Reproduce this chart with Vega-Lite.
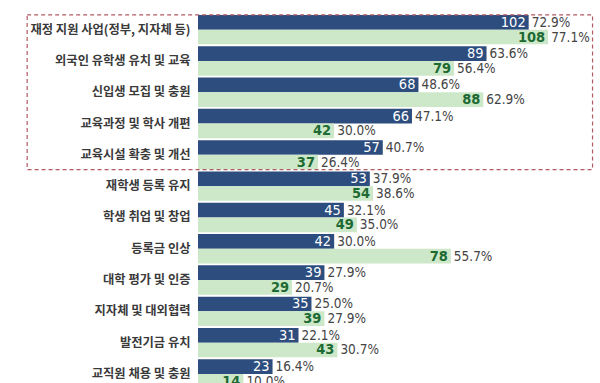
{
  "$schema": "https://vega.github.io/schema/vega-lite/v6.json",
  "autosize": "none",
  "width": 402,
  "height": 375.6,
  "padding": {"left": 198, "top": 14, "right": 0, "bottom": 0},
  "background": "white",
  "config": {"view": {"stroke": null}},
  "datasets": {
    "bars": [
      {"category": "재정 지원 사업(정부, 지자체 등)", "series": "A", "value": 102, "pct": "72.9%"},
      {"category": "재정 지원 사업(정부, 지자체 등)", "series": "B", "value": 108, "pct": "77.1%"},
      {"category": "외국인 유학생 유치 및 교육", "series": "A", "value": 89, "pct": "63.6%"},
      {"category": "외국인 유학생 유치 및 교육", "series": "B", "value": 79, "pct": "56.4%"},
      {"category": "신입생 모집 및 충원", "series": "A", "value": 68, "pct": "48.6%"},
      {"category": "신입생 모집 및 충원", "series": "B", "value": 88, "pct": "62.9%"},
      {"category": "교육과정 및 학사 개편", "series": "A", "value": 66, "pct": "47.1%"},
      {"category": "교육과정 및 학사 개편", "series": "B", "value": 42, "pct": "30.0%"},
      {"category": "교육시설 확충 및 개선", "series": "A", "value": 57, "pct": "40.7%"},
      {"category": "교육시설 확충 및 개선", "series": "B", "value": 37, "pct": "26.4%"},
      {"category": "재학생 등록 유지", "series": "A", "value": 53, "pct": "37.9%"},
      {"category": "재학생 등록 유지", "series": "B", "value": 54, "pct": "38.6%"},
      {"category": "학생 취업 및 창업", "series": "A", "value": 45, "pct": "32.1%"},
      {"category": "학생 취업 및 창업", "series": "B", "value": 49, "pct": "35.0%"},
      {"category": "등록금 인상", "series": "A", "value": 42, "pct": "30.0%"},
      {"category": "등록금 인상", "series": "B", "value": 78, "pct": "55.7%"},
      {"category": "대학 평가 및 인증", "series": "A", "value": 39, "pct": "27.9%"},
      {"category": "대학 평가 및 인증", "series": "B", "value": 29, "pct": "20.7%"},
      {"category": "지자체 및 대외협력", "series": "A", "value": 35, "pct": "25.0%"},
      {"category": "지자체 및 대외협력", "series": "B", "value": 39, "pct": "27.9%"},
      {"category": "발전기금 유치", "series": "A", "value": 31, "pct": "22.1%"},
      {"category": "발전기금 유치", "series": "B", "value": 43, "pct": "30.7%"},
      {"category": "교직원 채용 및 충원", "series": "A", "value": 23, "pct": "16.4%"},
      {"category": "교직원 채용 및 충원", "series": "B", "value": 14, "pct": "10.0%"}
    ],
    "box": [
      {"x1": -52.7, "x2": 121.7, "c1": "재정 지원 사업(정부, 지자체 등)", "c2": "교육시설 확충 및 개선"}
    ]
  },
  "encoding": {
    "y": {
      "field": "category",
      "type": "nominal",
      "scale": {
        "domain": ["재정 지원 사업(정부, 지자체 등)", "외국인 유학생 유치 및 교육", "신입생 모집 및 충원", "교육과정 및 학사 개편", "교육시설 확충 및 개선", "재학생 등록 유지", "학생 취업 및 창업", "등록금 인상", "대학 평가 및 인증", "지자체 및 대외협력", "발전기금 유치", "교직원 채용 및 충원"],
        "paddingInner": 0.06,
        "paddingOuter": 0.03
      },
      "axis": {
        "title": null,
        "domain": false,
        "ticks": false,
        "labelPadding": 8,
        "labelFont": "Noto Sans CJK KR",
        "labelFontSize": 12.3,
        "labelFontWeight": 700,
        "labelColor": "#3a3a3a",
        "labelLimit": 200
      }
    }
  },
  "layer": [
    {
      "data": {"name": "bars"},
      "mark": {"type": "bar"},
      "encoding": {
        "x": {"field": "value", "type": "quantitative", "scale": {"domain": [0, 124], "nice": false, "zero": true}, "axis": null},
        "yOffset": {"field": "series", "type": "nominal", "scale": {"domain": ["A", "B"], "paddingInner": 0, "paddingOuter": 0}},
        "color": {"field": "series", "type": "nominal", "scale": {"domain": ["A", "B"], "range": ["#2c4d7e", "#cde8c8"]}, "legend": null}
      }
    },
    {
      "data": {"name": "bars"},
      "transform": [{"filter": "datum.series === 'A'"}],
      "mark": {"type": "text", "align": "right", "baseline": "middle", "dx": -3, "dy": 0.5, "font": "DejaVu Sans Condensed, Roboto, sans-serif", "fontSize": 14.5, "color": "#ffffff"},
      "encoding": {
        "x": {"field": "value", "type": "quantitative"},
        "yOffset": {"field": "series", "type": "nominal"},
        "text": {"field": "value", "type": "quantitative"}
      }
    },
    {
      "data": {"name": "bars"},
      "transform": [{"filter": "datum.series === 'B'"}],
      "mark": {"type": "text", "align": "right", "baseline": "middle", "dx": -3, "dy": 0.5, "font": "DejaVu Sans Condensed, Roboto, sans-serif", "fontSize": 14.5, "fontWeight": "bold", "color": "#1d6a33"},
      "encoding": {
        "x": {"field": "value", "type": "quantitative"},
        "yOffset": {"field": "series", "type": "nominal"},
        "text": {"field": "value", "type": "quantitative"}
      }
    },
    {
      "data": {"name": "bars"},
      "mark": {"type": "text", "align": "left", "baseline": "middle", "dx": 3, "dy": 0.5, "font": "DejaVu Sans Condensed, Roboto, sans-serif", "fontSize": 13.5, "color": "#444444"},
      "encoding": {
        "x": {"field": "value", "type": "quantitative"},
        "yOffset": {"field": "series", "type": "nominal"},
        "text": {"field": "pct", "type": "nominal"}
      }
    },
    {
      "data": {"name": "box"},
      "mark": {"type": "rect", "fill": null, "stroke": "#b05a62", "strokeWidth": 1.2, "strokeDash": [4, 3]},
      "encoding": {
        "x": {"field": "x1", "type": "quantitative"},
        "x2": {"field": "x2"},
        "y": {"field": "c1", "type": "nominal", "bandPosition": 0},
        "y2": {"field": "c2", "bandPosition": 1}
      }
    }
  ]
}
